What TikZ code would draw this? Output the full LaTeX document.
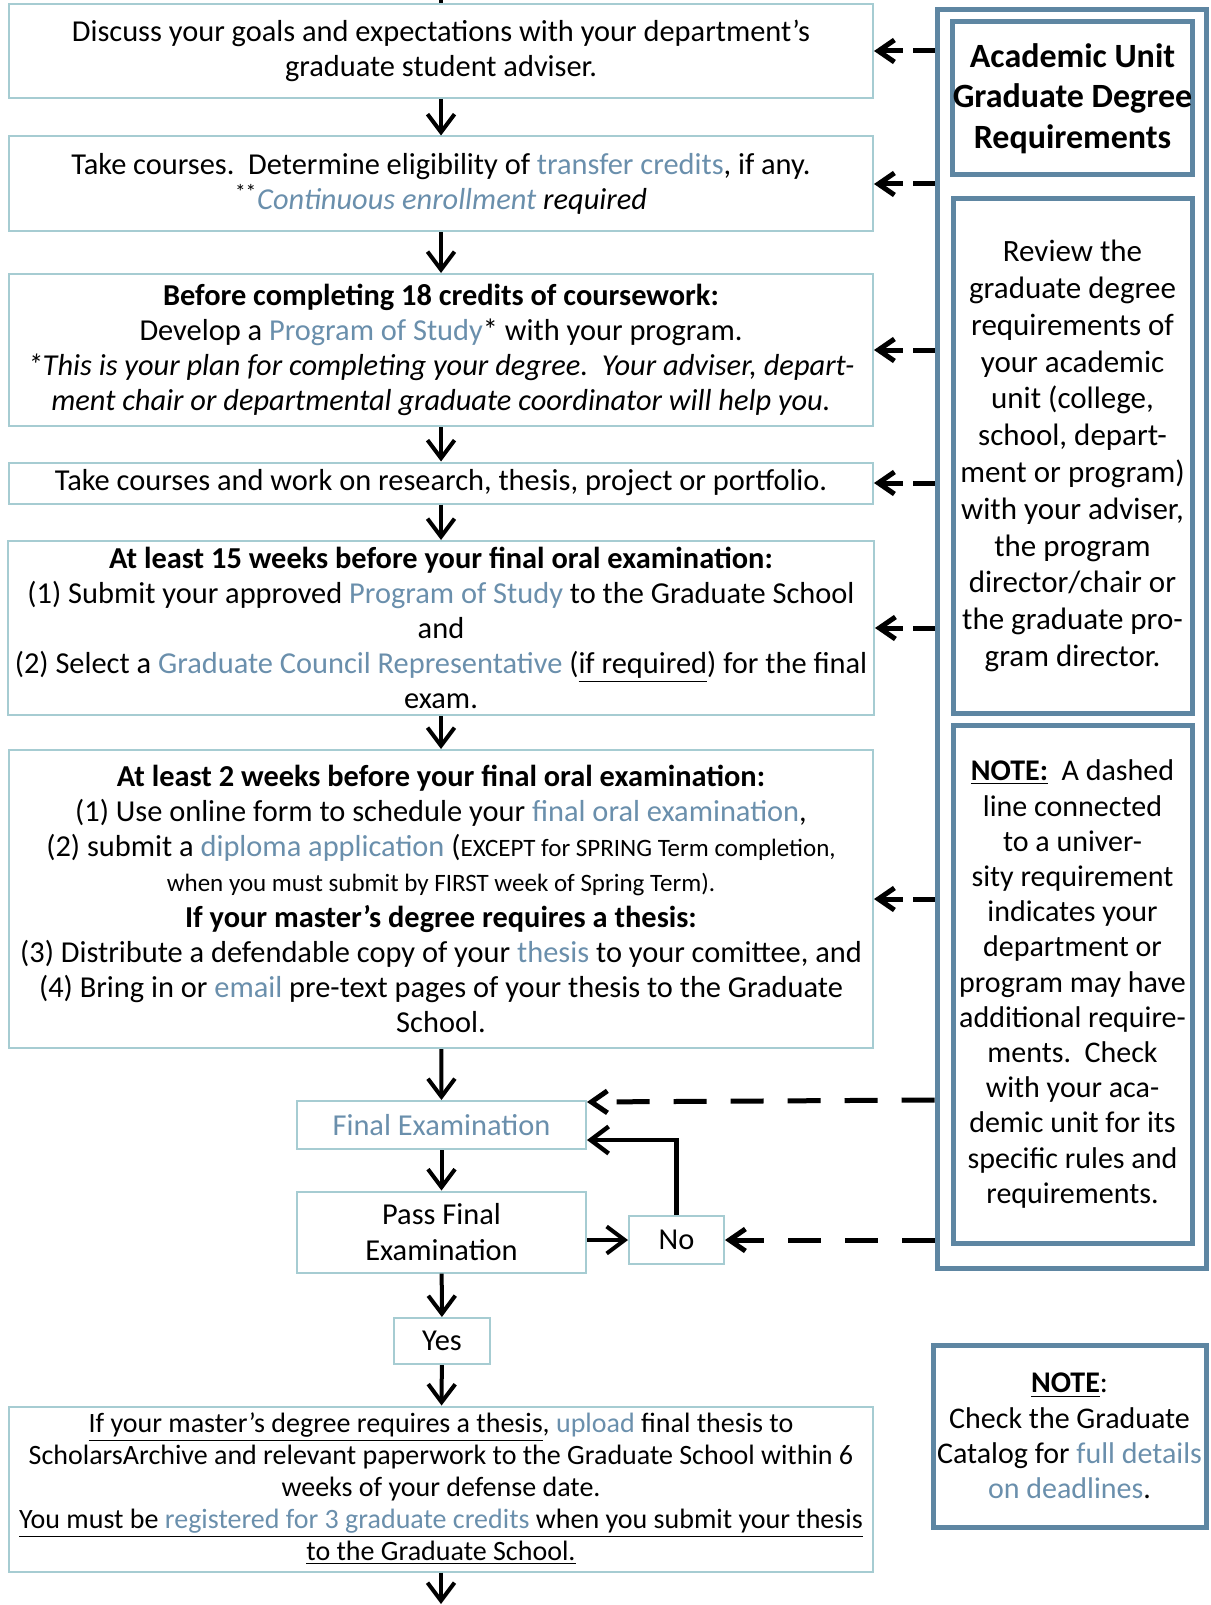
\documentclass[tikz,border=0pt]{standalone}
\usepackage{fontspec}
\setmainfont{Carlito}
\usetikzlibrary{arrows.meta}

\definecolor{boxline}{HTML}{A6CCD2}
\definecolor{linkblue}{HTML}{6A8FAC}
\definecolor{panelblue}{HTML}{5E86A2}
\newcommand{\lnk}[1]{\textcolor{linkblue}{#1}}

\begin{document}
\begin{tikzpicture}[x=0.5pt,y=-0.5pt,
    flow/.style={draw, line width=2pt, -{Straight Barb[length=9pt,width=13.5pt]}},
    dashlink/.style={draw, line width=2.5pt, dash pattern=on 16.5pt off 12pt,
      -{Straight Barb[length=8pt,width=11pt]}},
    shortlink/.style={dashlink, dash pattern=on 11pt off 5pt}]
  \useasboundingbox (0,0) rectangle (1210,1605);

        % steps on the left
        \begin{scope}[every node/.style={draw=boxline, line width=1pt, align=center,
            inner sep=0pt, font=\fontsize{15.2}{17.6}\selectfont}]
          \node (goals) at (441,51) [minimum width=432pt, minimum height=47pt]
            {Discuss your goals and expectations with your department’s\\
             graduate student adviser.};
          \node (courses) at (441,184) [minimum width=432pt, minimum height=47.5pt]
            {Take courses.\ \ Determine eligibility of \lnk{transfer credits}, if any.\\
             \textsuperscript{**}\textit{\lnk{Continuous enrollment} required}};
          \node (program) at (441,350) [minimum width=432pt, minimum height=76pt]
            {\textbf{Before completing 18 credits of coursework:}\\
             Develop a \lnk{Program of Study}* with your program.\\
             \textit{*This is your plan for completing your degree.\ \ Your adviser, depart-}\\
             \textit{ment chair or departmental graduate coordinator will help you.}};
          \node (research) at (441,483) [minimum width=432pt, minimum height=20.5pt]
            {Take courses and work on research, thesis, project or portfolio.};
          \node (fifteen) at (441,628) [minimum width=433pt, minimum height=87pt]
            {\textbf{At least 15 weeks before your final oral examination:}\\
             (1) Submit your approved \lnk{Program of Study} to the Graduate School\\
             and\\
             (2) Select a \lnk{Graduate Council Representative} (\underline{if required}) for the final\\
             exam.};
          \node (twoweeks) at (441,899) [minimum width=432pt, minimum height=149pt]
            {\textbf{At least 2 weeks before your final oral examination:}\\
             (1) Use online form to schedule your \lnk{final oral examination},\\
             (2) submit a \lnk{diploma application} ({\fontsize{12.5}{17.6}\selectfont EXCEPT for SPRING Term completion,}\\
             {\fontsize{12.5}{17.6}\selectfont when you must submit by FIRST week of Spring Term).}\\
             \textbf{If your master’s degree requires a thesis:}\\
             (3) Distribute a defendable copy of your \lnk{thesis} to your comittee, and\\
             (4) Bring in or \lnk{email} pre-text pages of your thesis to the Graduate\\
             School.};
          \node (final) at (441.5,1125) [minimum width=144.5pt, minimum height=24pt]
            {\lnk{Final Examination}};
          \node (pass) at (441.5,1232) [minimum width=144.5pt, minimum height=40.5pt]
            {Pass Final\\ Examination};
          \node (no) at (676.5,1240) [minimum width=47.5pt, minimum height=24pt] {No};
          \node (yes) at (442,1341) [minimum width=48pt, minimum height=23pt] {Yes};
          \node (upload) at (441,1489) [minimum width=432pt, minimum height=82.5pt,
              font=\fontsize{14}{16}\selectfont]
            {\underline{If your master’s degree requires a thesis}, \lnk{upload} final thesis to\\
             ScholarsArchive and relevant paperwork to the Graduate School within 6\\
             weeks of your defense date.\\
             \underline{You must be \lnk{registered for 3 graduate credits} when you submit your thesis}\\
             \underline{to the Graduate School.}};
        \end{scope}

        % academic unit panel on the right
        \begin{scope}[every node/.style={draw=panelblue, line width=2.5pt, align=center,
            inner sep=0pt, minimum width=119.5pt, font=\fontsize{15}{17.6}\selectfont}]
          \node (panel) at (1071.5,639) [minimum width=134.5pt, minimum height=629pt] {};
          \node (unit) at (1072.5,98.5) [minimum height=76.5pt,
              font=\fontsize{17}{20.2}\selectfont\bfseries]
            {Academic Unit\\ Graduate Degree\\ Requirements};
          \node (review) at (1072.5,456) [minimum height=257pt,
              font=\fontsize{15.5}{18.4}\selectfont]
            {Review the\\ graduate degree\\ requirements of\\ your academic\\
             unit (college,\\ school, depart-\\ ment or program)\\ with your adviser,\\
             the program\\ director/chair or\\ the graduate pro-\\ gram director.};
          \node (dashnote) at (1072.5,984) [minimum height=259pt]
            {\underline{\textbf{NOTE:}}\ \ A dashed\\ line connected\\ to a univer-\\
             sity requirement\\ indicates your\\ department or\\ program may have\\
             additional require-\\ ments.\ \ Check\\ with your aca-\\ demic unit for its\\
             specific rules and\\ requirements.};
          \node (catalog) at (1069.5,1436) [minimum width=136.5pt, minimum height=91pt]
            {\underline{\textbf{NOTE}}:\\ Check the Graduate\\ Catalog for \lnk{full details}\\
             \lnk{on deadlines}.};
        \end{scope}

        \coordinate (entry) at (441,0);
        \coordinate (exit) at (441,1604);

        \draw[line width=2pt] (entry) -- (goals);

        \begin{scope}[every edge/.style=flow]
          \path (goals)    edge (courses);
          \path (courses)  edge (program);
          \path (program)  edge (research);
          \path (research) edge (fifteen);
          \path (fifteen)  edge (twoweeks);
          \path (twoweeks) edge (final);
          \path (final)    edge (pass);
          \path (pass)     edge (yes);
          \path (yes)      edge (upload);
          \path (upload)   edge (exit);
          \path (pass.east |- no.west) edge (no.west);
        \end{scope}
        \draw[flow, line width=2.2pt] (no.north) |- ([yshift=-7.5pt]final.east);

        \begin{scope}[every edge/.style=shortlink]
          \path (panel.west |- goals)    edge (goals.east);
          \path (panel.west |- courses)  edge (courses.east);
          \path (panel.west |- program)  edge (program.east);
          \path (panel.west |- research) edge (research.east);
          \path (panel.west |- fifteen)  edge (fifteen.east);
          \path (panel.west |- twoweeks) edge (twoweeks.east);
        \end{scope}
        \begin{scope}[every edge/.style=dashlink]
          \path (panel.west |- final.north east) edge ([yshift=-1pt]final.north east);
          \path (panel.west |- no.east) edge (no.east);
        \end{scope}

      \end{tikzpicture}
\end{document}
